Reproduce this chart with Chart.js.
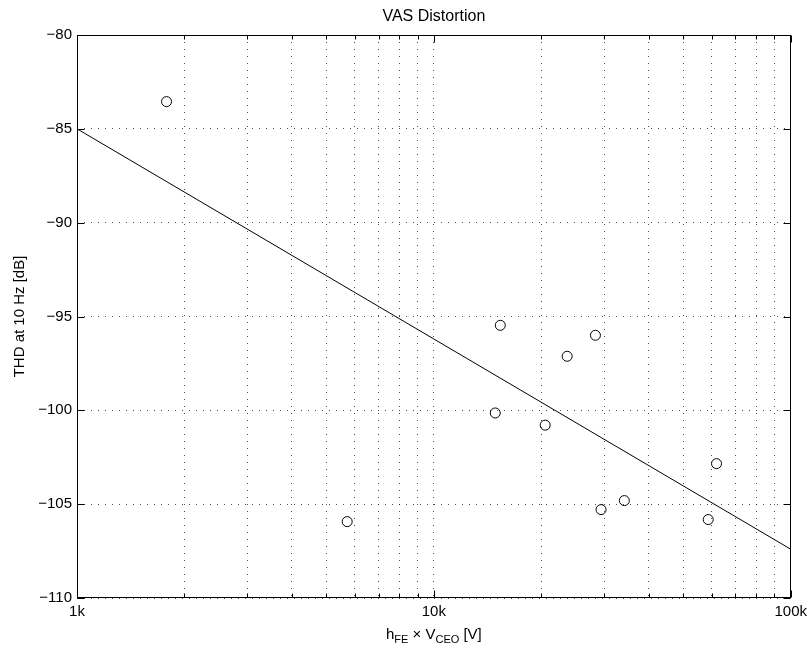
<!DOCTYPE html>
<html>
<head>
<meta charset="utf-8">
<script src="https://cdn.jsdelivr.net/npm/chart.js@4/dist/chart.umd.min.js"></script>
<style>
  html, body { margin: 0; padding: 0; background: #fff; }
  #c { display: block; }
</style>
</head>
<body>
<canvas id="c" width="812" height="651"></canvas>
<script>
// Gain-voltage product of each VAS transistor and the measured THD at 10 Hz
const product = [1782, 5716, 14860, 15350, 20510, 23630, 28360, 29410, 34180, 58720, 61950];
const thd     = [-83.55, -105.93, -100.14, -95.47, -100.79, -97.12, -96.0, -105.29, -104.81, -105.82, -102.84];

// Trend line through the measurements (log-linear fit), given by its end points
const fitX = [1000, 100000];
const fitY = [-85, -107.4];

// Axis ticks
const xTicks = [1000, 2000, 3000, 4000, 5000, 6000, 7000, 8000, 9000,
                10000, 20000, 30000, 40000, 50000, 60000, 70000, 80000, 90000, 100000];
const xMajor = [1000, 10000, 100000];
const xTickLabels = ['1k', '10k', '100k'];
const yTicks = [-110, -105, -100, -95, -90, -85, -80];

const FONT = "'Liberation Sans', Arial, Helvetica, sans-serif";
const GRID_COLOR = 'rgba(0,0,0,0.7)';

function minusLabel(v) {
  return (v < 0 ? '\u2212' : '') + Math.abs(v);
}

// Box around the axes, inward tick marks and the x-axis title with subscripts
const axesDecor = {
  id: 'axesDecor',
  afterDraw(chart) {
    const { ctx, chartArea: a, scales } = chart;
    const xs = scales.x, ys = scales.y;
    ctx.save();
    ctx.strokeStyle = '#000';
    ctx.lineWidth = 1;
    ctx.setLineDash([]);

    const L = Math.round(a.left) + 0.5, R = Math.round(a.right) - 0.5;
    const T = Math.round(a.top) + 0.5, B = Math.round(a.bottom) - 0.5;

    ctx.beginPath();
    xTicks.forEach(v => {
      const px = Math.round(xs.getPixelForValue(v)) + 0.5;
      const len = xMajor.includes(v) ? 7 : 4;
      ctx.moveTo(px, B); ctx.lineTo(px, B - len);
      ctx.moveTo(px, T); ctx.lineTo(px, T + len);
    });
    yTicks.forEach(v => {
      const py = Math.round(ys.getPixelForValue(v)) + 0.5;
      ctx.moveTo(L, py); ctx.lineTo(L + 7, py);
      ctx.moveTo(R, py); ctx.lineTo(R - 7, py);
    });
    ctx.stroke();

    ctx.strokeRect(L, T, R - L, B - T);

    // x-axis title: h_FE × V_CEO [V]
    const parts = [
      ['h', false], ['FE', true], [' \u00d7 V', false], ['CEO', true], [' [V]', false]
    ];
    const big = '15px ' + FONT, small = '11px ' + FONT;
    let total = 0;
    parts.forEach(([t, sub]) => { ctx.font = sub ? small : big; total += ctx.measureText(t).width; });
    let x = (a.left + a.right) / 2 - total / 2;
    const base = 639;
    ctx.fillStyle = '#000';
    ctx.textBaseline = 'alphabetic';
    ctx.textAlign = 'left';
    parts.forEach(([t, sub]) => {
      ctx.font = sub ? small : big;
      ctx.fillText(t, x, sub ? base + 4 : base);
      x += ctx.measureText(t).width;
    });
    ctx.restore();
  }
};

new Chart(document.getElementById('c'), {
  type: 'scatter',
  data: {
    datasets: [
      {
        label: 'trend',
        data: fitX.map((x, i) => ({ x, y: fitY[i] })),
        showLine: true,
        borderColor: '#000',
        borderWidth: 1,
        pointRadius: 0,
        tension: 0
      },
      {
        label: 'measured',
        data: product.map((x, i) => ({ x, y: thd[i] })),
        showLine: false,
        pointStyle: 'circle',
        pointRadius: 5,
        pointBorderWidth: 1,
        pointBorderColor: '#000',
        pointBackgroundColor: 'rgba(0,0,0,0)'
      }
    ]
  },
  options: {
    responsive: false,
    animation: false,
    devicePixelRatio: 1,
    events: [],
    layout: { padding: { left: 0, right: 20, top: 0, bottom: 0 } },
    plugins: {
      legend: { display: false },
      tooltip: { enabled: false },
      title: {
        display: true,
        text: 'VAS Distortion',
        fullSize: false,
        color: '#000',
        font: { family: FONT, size: 16, weight: 'normal', lineHeight: 1.2 },
        padding: { top: 7.4, bottom: 8.4 }
      }
    },
    scales: {
      x: {
        type: 'logarithmic',
        min: 1000,
        max: 100000,
        afterBuildTicks(scale) {
          scale.ticks = xTicks.map(v => ({ value: v, major: xMajor.includes(v) }));
        },
        afterFit(scale) { scale.height = 53; },
        ticks: {
          autoSkip: false,
          maxRotation: 0,
          padding: 5,
          color: '#000',
          font: { family: FONT, size: 15 },
          callback(v) {
            const i = xMajor.indexOf(v);
            return i >= 0 ? xTickLabels[i] : '';
          }
        },
        grid: { color: GRID_COLOR, lineWidth: 1, drawTicks: false },
        border: { display: false, dash: [1, 6] },
        title: { display: false }
      },
      y: {
        min: -110,
        max: -80,
        afterBuildTicks(scale) {
          scale.ticks = yTicks.map(v => ({ value: v }));
        },
        afterFit(scale) { scale.width = 77; },
        ticks: {
          padding: 5,
          color: '#000',
          font: { family: FONT, size: 15 },
          callback: v => minusLabel(v)
        },
        grid: { color: GRID_COLOR, lineWidth: 1, drawTicks: false },
        border: { display: false, dash: [1, 6] },
        title: {
          display: true,
          text: 'THD at 10 Hz [dB]',
          color: '#000',
          font: { family: FONT, size: 15, lineHeight: 1.2 },
          padding: { top: 11, bottom: 0 }
        }
      }
    }
  },
  plugins: [axesDecor]
});
</script>
</body>
</html>
